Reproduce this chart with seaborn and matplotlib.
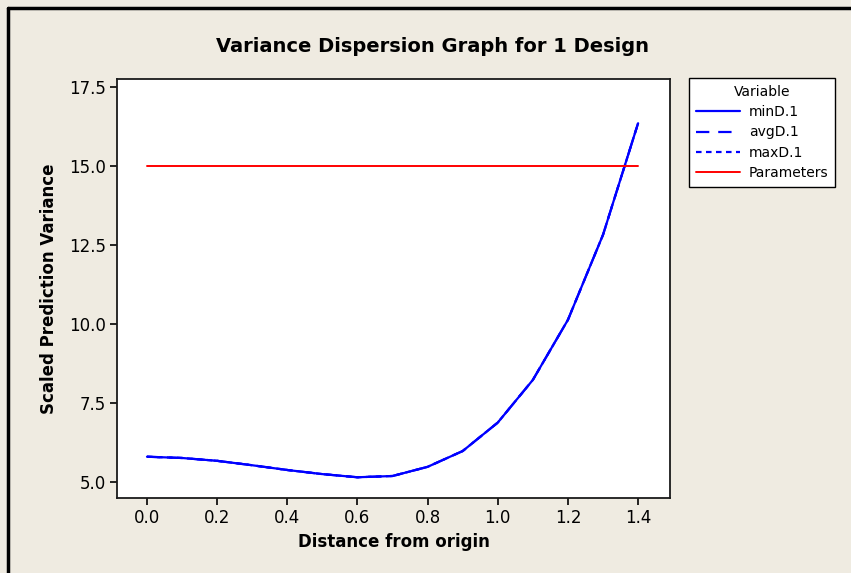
import numpy as np
import pandas as pd
import matplotlib
matplotlib.use("Agg")
import matplotlib.pyplot as plt
import seaborn as sns
from matplotlib.lines import Line2D

# values
distance = [0.0, 0.1, 0.2, 0.3, 0.4, 0.5, 0.6, 0.7, 0.8, 0.9, 1.0, 1.1, 1.2, 1.3, 1.4]
min_d = [5.80, 5.76, 5.67, 5.53, 5.38, 5.25, 5.15, 5.19, 5.48, 5.98, 6.88, 8.23, 10.13, 12.82, 16.35]
avg_d = [5.80, 5.76, 5.67, 5.53, 5.38, 5.25, 5.15, 5.19, 5.48, 5.98, 6.88, 8.23, 10.13, 12.82, 16.35]
max_d = [5.80, 5.76, 5.67, 5.53, 5.38, 5.25, 5.15, 5.19, 5.48, 5.98, 6.88, 8.23, 10.13, 12.82, 16.35]
param_x = [0.0, 1.4]
param_y = [15.0, 15.0]

x_ticks = [0.0, 0.2, 0.4, 0.6, 0.8, 1.0, 1.2, 1.4]
y_ticks = [5.0, 7.5, 10.0, 12.5, 15.0, 17.5]

bg = '#EFEBE1'

sns.set_style("ticks")
plt.rcParams['font.family'] = ['DejaVu Sans']
plt.rcParams['text.color'] = 'black'
plt.rcParams['axes.labelcolor'] = 'black'

fig = plt.figure(figsize=(8.51, 5.73), dpi=100, facecolor=bg)
ax = fig.add_axes([117/851, 1 - 498/573, (670 - 117)/851, (498 - 79)/573])
ax.set_facecolor('white')

df = pd.DataFrame({'x': distance, 'minD.1': min_d, 'avgD.1': avg_d, 'maxD.1': max_d})

sns.lineplot(data=df, x='x', y='maxD.1', ax=ax, color='#0000FF', lw=1.6,
             linestyle=(0, (2.5, 2)), label='maxD.1')
sns.lineplot(data=df, x='x', y='avgD.1', ax=ax, color='#0000FF', lw=1.6,
             linestyle=(0, (6, 4)), label='avgD.1')
sns.lineplot(data=df, x='x', y='minD.1', ax=ax, color='#0000FF', lw=1.6,
             label='minD.1')
sns.lineplot(x=param_x, y=param_y, ax=ax, color='#FF0000', lw=1.4, label='Parameters')

ax.set_xlim(-0.0855, 1.491)
ax.set_ylim(4.494, 17.75)
ax.set_xticks(x_ticks)
ax.set_yticks(y_ticks)
ax.set_xticklabels([f'{v:.1f}' for v in x_ticks])
ax.set_yticklabels([f'{v:.1f}' for v in y_ticks])
ax.tick_params(direction='out', length=5, width=1.2, labelsize=12, pad=3,
               colors='black', labelcolor='black')

for s in ax.spines.values():
    s.set_visible(True)
    s.set_color('#1a1a1a')
    s.set_linewidth(1.3)

ax.set_xlabel('Distance from origin', fontsize=12, fontweight='bold', labelpad=4)
ax.set_ylabel('Scaled Prediction Variance', fontsize=12, fontweight='bold', labelpad=8)

fig.text(432/851, 1 - 47/573, 'Variance Dispersion Graph for 1 Design',
         ha='center', va='center', fontsize=14, fontweight='bold', color='black')

# legend in the Minitab order
handles, labels = ax.get_legend_handles_labels()
order = ['minD.1', 'avgD.1', 'maxD.1', 'Parameters']
hmap = dict(zip(labels, handles))
leg = ax.legend([hmap[k] for k in order], order, title='Variable',
                loc='upper left', bbox_to_anchor=(689/851, 1 - 78/573),
                bbox_transform=fig.transFigure, frameon=True, fancybox=False,
                edgecolor='black', facecolor='white', framealpha=1,
                fontsize=10, title_fontsize=10, handlelength=3.2,
                handletextpad=0.6, labelspacing=0.45, borderpad=0.5,
                borderaxespad=0, labelcolor='black')
leg.get_frame().set_linewidth(1.0)
leg.get_title().set_color('black')

# screenshot border along top and left
fig.add_artist(Line2D([8/851, 8/851], [0, 1 - 8/573], transform=fig.transFigure,
                      color='black', lw=2.5))
fig.add_artist(Line2D([8/851, 1], [1 - 8/573, 1 - 8/573], transform=fig.transFigure,
                      color='black', lw=2.5))

plt.savefig('out.png', dpi=100, facecolor=bg)
